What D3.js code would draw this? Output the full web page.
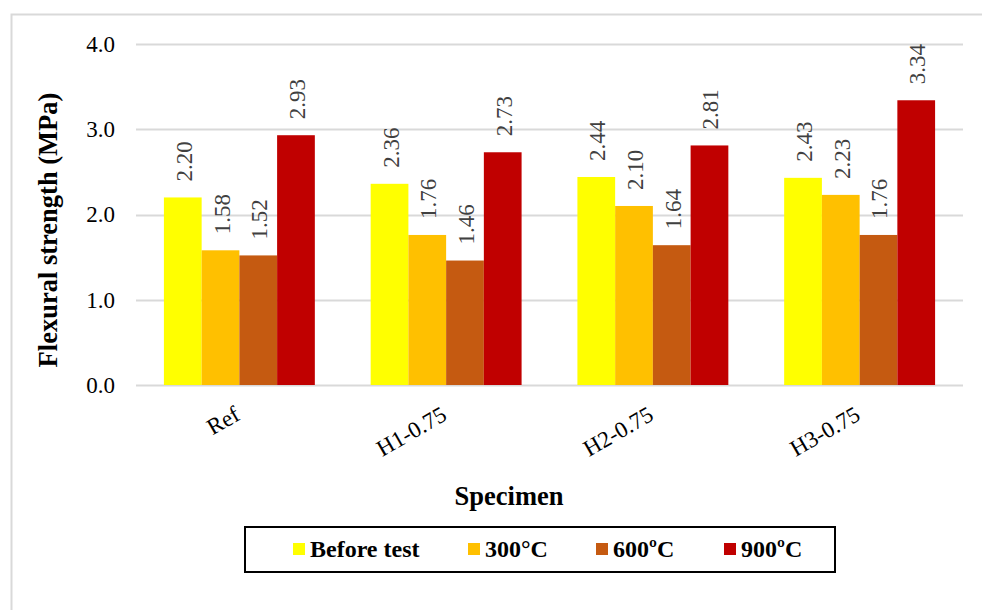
<!DOCTYPE html>
<html>
<head>
<meta charset="utf-8">
<script src="https://cdn.jsdelivr.net/npm/d3@7"></script>
<style>
  body { margin: 0; background: #fff; }
  svg { display: block; }
</style>
</head>
<body>
<div id="chart"></div>
<script>
// data
const specimens = ['Ref', 'H1-0.75', 'H2-0.75', 'H3-0.75'];
const seriesNames = ['Before test', '300°C', '600ºC', '900ºC'];
const beforeTest = [2.20, 2.36, 2.44, 2.43];
const t300 = [1.58, 1.76, 2.10, 2.23];
const t600 = [1.52, 1.46, 1.64, 1.76];
const t900 = [2.93, 2.73, 2.81, 3.34];
const yTicks = [0, 1, 2, 3, 4];
const colors = ['#FFFF00', '#FFC000', '#C55A11', '#C00000'];

const seriesValues = [beforeTest, t300, t600, t900];
const rows = specimens.map((s, i) => ({
    name: s,
    values: seriesNames.map((k, j) => ({ key: k, value: seriesValues[j][i] }))
}));

const W = 982, H = 610;
const plot = { left: 136, right: 963, top: 44, bottom: 385 };
const serif = '"Liberation Serif", "Times New Roman", serif';

const svg = d3.select('#chart')
    .append('svg')
    .attr('width', W)
    .attr('height', H);

// outer chart border
svg.append('rect')
    .attr('x', 11.5).attr('y', 14.5)
    .attr('width', 990).attr('height', 620)
    .attr('fill', 'none')
    .attr('stroke', '#d9d9d9')
    .attr('stroke-width', 2);

const x0 = d3.scaleBand()
    .domain(specimens)
    .range([plot.left, plot.right])
    .paddingInner(0.27)
    .paddingOuter(0.135);

const x1 = d3.scaleBand()
    .domain(seriesNames)
    .range([0, x0.bandwidth()]);

const y = d3.scaleLinear()
    .domain([0, 4])
    .range([plot.bottom, plot.top]);

const color = d3.scaleOrdinal().domain(seriesNames).range(colors);

// gridlines
svg.append('g')
    .selectAll('line')
    .data(yTicks)
    .enter()
    .append('line')
    .attr('x1', plot.left)
    .attr('x2', plot.right)
    .attr('y1', d => Math.round(y(d)) + 0.5)
    .attr('y2', d => Math.round(y(d)) + 0.5)
    .attr('stroke', '#d9d9d9')
    .attr('stroke-width', 2);

// y axis labels
const yAxis = svg.append('g')
    .attr('transform', `translate(${plot.left},0)`)
    .call(d3.axisLeft(y).tickValues(yTicks).tickFormat(d3.format('.1f')).tickSize(0).tickPadding(21));
yAxis.select('.domain').remove();
yAxis.selectAll('text')
    .style('font-family', serif)
    .style('font-size', '23px')
    .attr('fill', '#000');

// bars
const groups = svg.append('g')
    .selectAll('g')
    .data(rows)
    .enter()
    .append('g')
    .attr('transform', d => `translate(${x0(d.name)},0)`);

groups.selectAll('rect')
    .data(d => d.values)
    .enter()
    .append('rect')
    .attr('x', d => x1(d.key))
    .attr('y', d => y(d.value))
    .attr('width', x1.bandwidth())
    .attr('height', d => y(0) - y(d.value))
    .attr('fill', d => color(d.key));

// value labels
groups.selectAll('text')
    .data(d => d.values)
    .enter()
    .append('text')
    .attr('transform', d => `translate(${x1(d.key) + x1.bandwidth() / 2 + 9},${y(d.value) - 16}) rotate(-90)`)
    .attr('text-anchor', 'start')
    .style('font-family', serif)
    .style('font-size', '23px')
    .attr('fill', '#404040')
    .text(d => d.value.toFixed(2));

// x axis labels
svg.append('g')
    .selectAll('text')
    .data(specimens)
    .enter()
    .append('text')
    .attr('transform', d => `translate(${x0(d) + x0.bandwidth() / 2 + 2},${plot.bottom + 34}) rotate(-30)`)
    .attr('text-anchor', 'end')
    .style('font-family', serif)
    .style('font-size', '23px')
    .attr('fill', '#000')
    .text(d => d);

// axis titles
svg.append('text')
    .attr('transform', `translate(57,230) rotate(-90)`)
    .attr('text-anchor', 'middle')
    .style('font-family', serif)
    .style('font-size', '26.5px')
    .style('font-weight', 'bold')
    .text('Flexural strength (MPa)');

svg.append('text')
    .attr('x', 509)
    .attr('y', 505)
    .attr('text-anchor', 'middle')
    .style('font-family', serif)
    .style('font-size', '26.5px')
    .style('font-weight', 'bold')
    .text('Specimen');

// legend
const legend = svg.append('g');
legend.append('rect')
    .attr('x', 245).attr('y', 527)
    .attr('width', 590).attr('height', 45)
    .attr('fill', '#fff')
    .attr('stroke', '#000')
    .attr('stroke-width', 2);

const legendX = [293, 468, 596, 724];
seriesNames.forEach((name, i) => {
    const row = legend.append('g')
        .attr('transform', `translate(${legendX[i]},543)`);
    row.append('rect')
        .attr('width', 12)
        .attr('height', 12)
        .attr('fill', color(name));
    row.append('text')
        .attr('x', 17)
        .attr('y', 14)
        .style('font-family', serif)
        .style('font-size', '24px')
        .style('font-weight', 'bold')
        .text(name);
});
</script>
</body>
</html>
